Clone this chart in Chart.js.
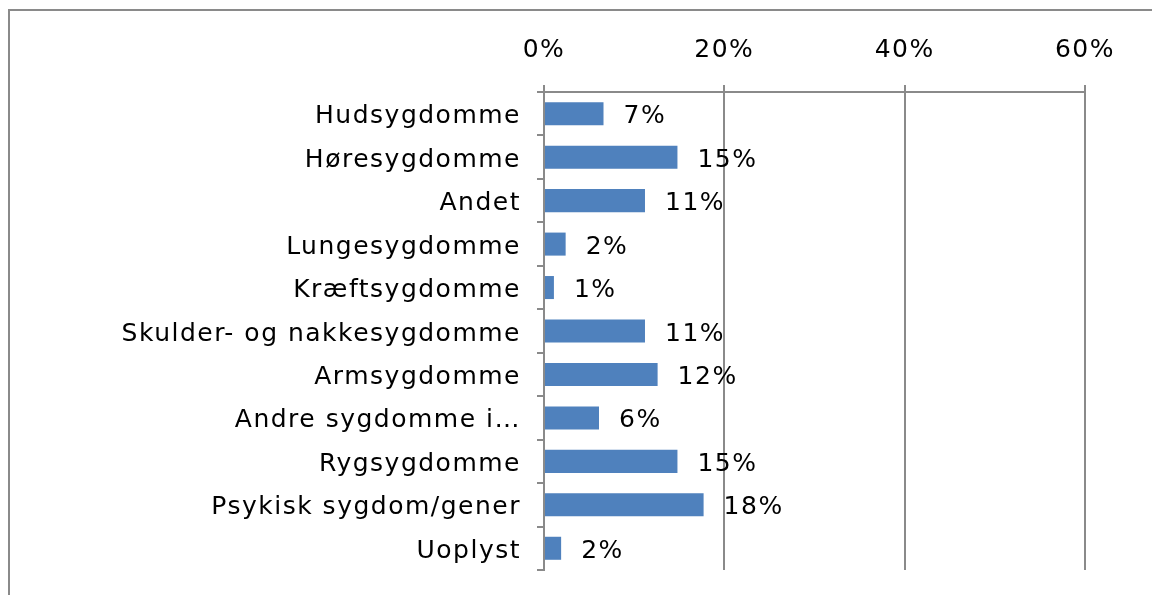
<!DOCTYPE html>
<html>
<head>
<meta charset="utf-8">
<script src="https://cdn.jsdelivr.net/npm/chart.js@4/dist/chart.umd.min.js"></script>
<style>
html,body{margin:0;padding:0;background:#fff;}
#wrap{position:relative;width:1152px;height:595px;}
</style>
</head>
<body>
<div id="wrap"><canvas id="c" width="1152" height="595"></canvas></div>
<script>
const categories = ["Hudsygdomme","Høresygdomme","Andet","Lungesygdomme","Kræftsygdomme","Skulder- og nakkesygdomme","Armsygdomme","Andre sygdomme i…","Rygsygdomme","Psykisk sygdom/gener","Uoplyst"];
const values = [6.6, 14.8, 11.2, 2.4, 1.1, 11.2, 12.6, 6.1, 14.8, 17.7, 1.9];
const valueLabels = ["7%","15%","11%","2%","1%","11%","12%","6%","15%","18%","2%"];
const xTicks = [0, 20, 40, 60];

const FONT = {family: "'DejaVu Sans', Verdana, sans-serif", size: 25};
const GRAY = '#8a8a8a';

const spacingPlugin = {
  id: 'spacing',
  beforeUpdate(chart){ chart.ctx.letterSpacing = '1.5px'; },
  beforeDraw(chart){
    const ctx = chart.ctx;
    ctx.letterSpacing = '1.5px';
    ctx.save();
    ctx.fillStyle = '#fff';
    ctx.fillRect(0,0,chart.width,chart.height);
    ctx.fillStyle = GRAY;
    ctx.fillRect(8, 9, chart.width, 2);
    ctx.fillRect(8, 9, 2, chart.height);
    ctx.restore();
  }
};

const labelPlugin = {
  id: 'vlabels',
  afterDatasetsDraw(chart){
    const ctx = chart.ctx;
    const meta = chart.getDatasetMeta(0);
    ctx.save();
    ctx.font = FONT.size + "px " + FONT.family;
    ctx.fillStyle = '#000';
    ctx.textAlign = 'left';
    ctx.textBaseline = 'middle';
    meta.data.forEach((bar, i) => {
      ctx.fillText(valueLabels[i], bar.x + 20, bar.y + 3);
    });
    ctx.restore();
  }
};

new Chart(document.getElementById('c'), {
  type: 'bar',
  data: {
    labels: categories,
    datasets: [{
      data: values,
      backgroundColor: '#4F81BD',
      borderWidth: 0,
      barPercentage: 0.53,
      categoryPercentage: 1.0
    }]
  },
  options: {
    indexAxis: 'y',
    responsive: false,
    animation: false,
    devicePixelRatio: 1,
    layout: {padding: {left: 0, top: 0, right: 67, bottom: 25}},
    plugins: {legend: {display: false}, tooltip: {enabled: false}},
    scales: {
      x: {
        position: 'top',
        min: 0, max: 60,
        afterBuildTicks(scale){ scale.ticks = xTicks.map(v => ({value: v})); },
        afterFit(scale){ scale.height = 92; scale.paddingLeft = 0; scale.paddingRight = 0; },
        ticks: {
          color: '#000',
          font: FONT,
          padding: 20,
          callback: v => v + '%'
        },
        grid: {color: GRAY, lineWidth: 2, tickLength: 7, drawOnChartArea: true},
        border: {color: GRAY, width: 2}
      },
      y: {
        afterFit(scale){ scale.width = 544; scale.paddingTop = 0; scale.paddingBottom = 0; },
        ticks: {color: '#000', font: FONT, padding: 16, autoSkip: false, labelOffset: 3},
        grid: {color: GRAY, lineWidth: 2, tickLength: 7, drawOnChartArea: false, offset: true},
        border: {color: GRAY, width: 2}
      }
    }
  },
  plugins: [spacingPlugin, labelPlugin]
});
</script>
</body>
</html>
